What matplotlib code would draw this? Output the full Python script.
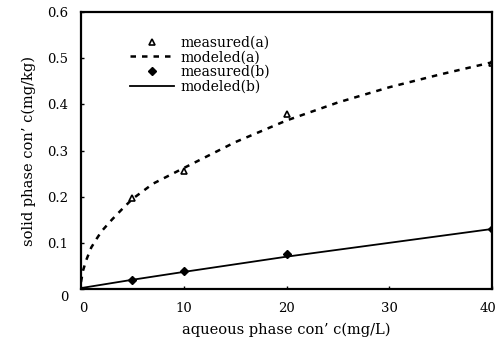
import matplotlib
matplotlib.use("Agg")
import matplotlib.pyplot as plt
import matplotlib.transforms as mtransforms
from matplotlib.lines import Line2D

# measured data
meas_x = [5, 10, 20, 40]
meas_a = [0.197, 0.256, 0.379, 0.490]
meas_b = [0.020, 0.039, 0.076, 0.130]

# modeled curves
mod_a_x = [0, 0.2, 0.5, 1, 1.5, 2, 3, 4, 5, 7, 10, 15, 20, 25, 30, 35, 40]
mod_a_y = [0.015, 0.04, 0.062, 0.09, 0.108, 0.125, 0.15, 0.173, 0.195, 0.228, 0.262, 0.318, 0.365, 0.404, 0.437, 0.465, 0.491]
mod_b_x = [0, 5, 10, 20, 30, 40]
mod_b_y = [0.002, 0.020, 0.037, 0.070, 0.100, 0.130]

xticks = [0, 10, 20, 30, 40]
yticks = [0, 0.1, 0.2, 0.3, 0.4, 0.5, 0.6]
ytick_labels = ["0", "0.1", "0.2", "0.3", "0.4", "0.5", "0.6"]

plt.rcParams['font.family'] = ['DejaVu Serif']
fig = plt.figure(figsize=(4.98, 3.47), dpi=100)
ax = fig.add_axes([81/498, 1-289/347, (492-81)/498, (289-12)/347])

ax.plot(mod_a_x, mod_a_y, color='black', lw=1.8, dashes=(2.2, 2.4))
ax.plot(mod_b_x, mod_b_y, color='black', lw=1.3)
ax.plot(meas_x, meas_a, linestyle='none', marker='^', ms=4.5, mfc='white', mec='black', mew=1.2)
ax.plot(meas_x, meas_b, linestyle='none', marker='D', ms=4, mfc='black', mec='black')

ax.set_xlim(0, 40)
ax.set_ylim(0, 0.6)
ax.set_xticks(xticks)
ax.set_xticklabels([str(t) for t in xticks])
ax.set_yticks(yticks)
ax.set_yticklabels(ytick_labels)
ax.tick_params(axis='both', direction='in', length=2, width=1, labelsize=9.5, colors='black')
ax.tick_params(axis='x', pad=9)
ax.tick_params(axis='y', pad=9)
for s in ax.spines.values():
    s.set_linewidth(1.6)
    s.set_color('black')

# nudge the last x label so it stays inside the figure, and the y "0" label down
xl = ax.get_xticklabels()
xl[-1].set_transform(xl[-1].get_transform() + mtransforms.ScaledTranslation(-4/100, 0, fig.dpi_scale_trans))
xl[0].set_transform(xl[0].get_transform() + mtransforms.ScaledTranslation(2/100, 0, fig.dpi_scale_trans))
yl = ax.get_yticklabels()
yl[0].set_transform(yl[0].get_transform() + mtransforms.ScaledTranslation(0, -7/100, fig.dpi_scale_trans))

ax.set_xlabel("aqueous phase con\u2019 c(mg/L)", fontsize=10.5, labelpad=6)
ax.set_ylabel("solid phase con\u2019 c(mg/kg)", fontsize=10.5, labelpad=8)

handles = [
    Line2D([], [], linestyle='none', marker='^', ms=4.5, mfc='white', mec='black', mew=1.2),
    Line2D([], [], color='black', lw=1.8, dashes=(2.2, 2.4)),
    Line2D([], [], linestyle='none', marker='D', ms=4, mfc='black', mec='black'),
    Line2D([], [], color='black', lw=1.3),
]
labels = ["measured(a)", "modeled(a)", "measured(b)", "modeled(b)"]
ax.legend(handles, labels, loc='upper left', bbox_to_anchor=(0.095, 0.95), frameon=False,
          fontsize=10, handlelength=3.2, handletextpad=0.45, labelspacing=0.05, borderpad=0.2)

fig.savefig("out.png", dpi=100)
